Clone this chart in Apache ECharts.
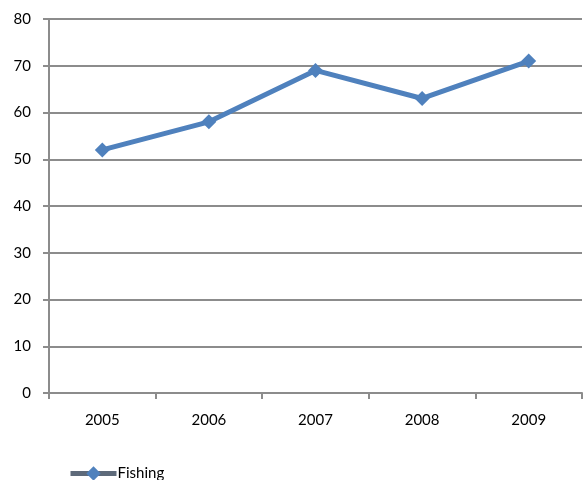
<!DOCTYPE html>
<html><head><meta charset="utf-8">
<script src="https://cdn.jsdelivr.net/npm/echarts@6/dist/echarts.min.js"></script>
<style>html,body{margin:0;padding:0;background:#fff}#c{width:583px;height:480px}</style>
</head><body><div id="c"></div>
<script>
var categories = ['2005','2006','2007','2008','2009'];
var fishing = [52, 58, 69, 63, 71];
var yTicks = {min:0, max:80, interval:10};
var chart = echarts.init(document.getElementById('c'));
var gray = '#8c8c8c';
chart.setOption({
  animation:false,
  textStyle:{fontFamily:'Lato, "Open Sans", sans-serif'},
  grid:{left:49, right:1, top:19, bottom:87},
  legend:{show:true, left:63, top:461, itemWidth:46, itemHeight:18, itemGap:0,
    textStyle:{fontSize:15, color:'#000', padding:[0,0,0,-4]},
    data:['Fishing'],
    lineStyle:{color:'#5e6a7a', width:5},
    itemStyle:{color:'#4f81bd', borderColor:'#4f81bd'}},
  xAxis:{type:'category', data:categories, boundaryGap:true,
    axisLine:{lineStyle:{color:gray, width:2}},
    axisTick:{show:true, length:6, lineStyle:{color:gray, width:2}},
    axisLabel:{color:'#000', fontSize:15, margin:20},
    splitLine:{show:false}},
  yAxis:{type:'value', min:yTicks.min, max:yTicks.max, interval:yTicks.interval,
    axisLine:{show:true, lineStyle:{color:gray, width:2}},
    axisTick:{show:true, length:6, lineStyle:{color:gray, width:2}},
    axisLabel:{color:'#000', fontSize:15, margin:18},
    splitLine:{lineStyle:{color:gray, width:2}}},
  series:[{name:'Fishing', type:'line', data:fishing,
    symbol:'diamond', symbolSize:15,
    lineStyle:{color:'#4f81bd', width:5},
    itemStyle:{color:'#4f81bd'}}]
});
</script></body></html>
